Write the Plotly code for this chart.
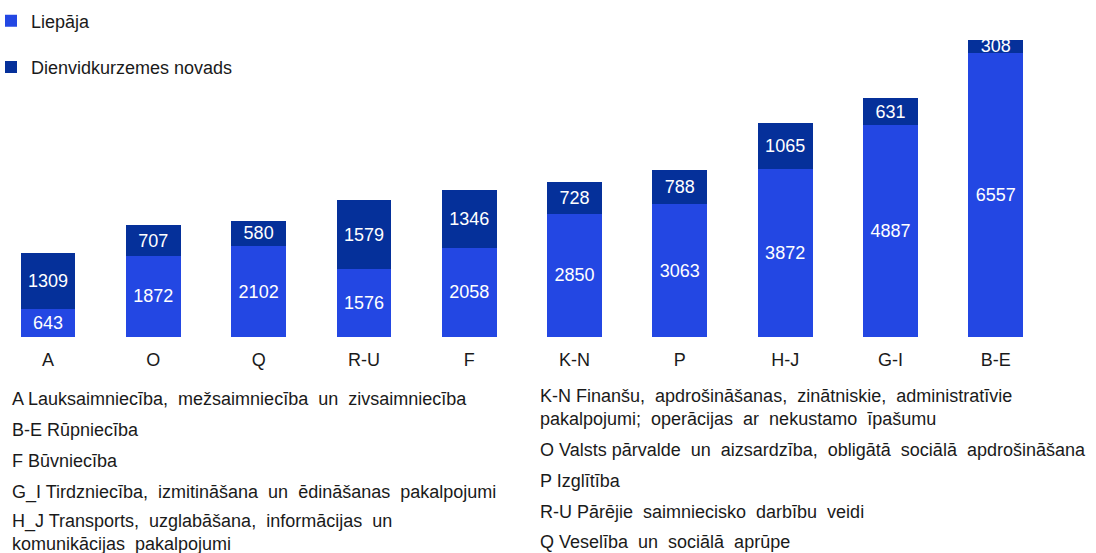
import plotly.graph_objects as go

categories = ["A", "O", "Q", "R-U", "F", "K-N", "P", "H-J", "G-I", "B-E"]
liepaja = [643, 1872, 2102, 1576, 2058, 2850, 3063, 3872, 4887, 6557]
dienvid = [1309, 707, 580, 1579, 1346, 728, 788, 1065, 631, 308]
series_names = ["Liepāja", "Dienvidkurzemes novads"]

notes_left = [
    "A Lauksaimniecība,  mežsaimniecība  un  zivsaimniecība",
    "B-E Rūpniecība",
    "F Būvniecība",
    "G_I Tirdzniecība,  izmitināšana  un  ēdināšanas  pakalpojumi",
    "H_J Transports,  uzglabāšana,  informācijas  un<br>komunikācijas  pakalpojumi",
]
notes_right = [
    "K-N Finanšu,  apdrošināšanas,  zinātniskie,  administratīvie<br>pakalpojumi;  operācijas  ar  nekustamo  īpašumu",
    "O Valsts pārvalde  un  aizsardzība,  obligātā  sociālā  apdrošināšana",
    "P Izglītība",
    "R-U Pārējie  saimniecisko  darbību  veidi",
    "Q Veselība  un  sociālā  aprūpe",
]

FONT = "Liberation Sans, Arial, sans-serif"
C_LIGHT = "#2347E3"
C_DARK = "#05309A"

fig = go.Figure()
fig.add_trace(go.Bar(
    x=categories, y=liepaja, name=series_names[0], legendgroup="g1",
    marker=dict(color=C_LIGHT, line=dict(width=0)),
    text=[str(v) for v in liepaja], textposition="inside", insidetextanchor="middle",
    textangle=0, constraintext="none",
    textfont=dict(color="white", size=18, family=FONT),
))
fig.add_trace(go.Bar(
    x=categories, y=dienvid, name=series_names[1], legendgroup="g2",
    marker=dict(color=C_DARK, line=dict(width=0)),
    text=[str(v) for v in dienvid], textposition="inside", insidetextanchor="middle",
    textangle=0, constraintext="none",
    textfont=dict(color="white", size=18, family=FONT),
))

PLOT_BOTTOM = 337
PLOT_H = 337
W = 1096

def py(ypix):
    return (PLOT_BOTTOM - ypix) / PLOT_H

annotations = []
left_y = [399, 430, 461, 492, 532]
right_y = [407.5, 450, 481, 512, 542]
for t, yp in zip(notes_left, left_y):
    annotations.append(dict(text=t, x=10 / W, y=py(yp), xref="paper", yref="paper",
                            xanchor="left", yanchor="middle", showarrow=False, align="left",
                            font=dict(size=18, color="#1a1a1a", family=FONT)))
for t, yp in zip(notes_right, right_y):
    annotations.append(dict(text=t, x=538 / W, y=py(yp), xref="paper", yref="paper",
                            xanchor="left", yanchor="middle", showarrow=False, align="left",
                            font=dict(size=18, color="#1a1a1a", family=FONT)))

fig.update_layout(
    width=1096, height=553,
    barmode="stack", bargap=0.48,
    plot_bgcolor="white", paper_bgcolor="white",
    margin=dict(l=0, r=0, t=0, b=216, pad=0, autoexpand=False),
    font=dict(family=FONT, size=18, color="#1a1a1a"),
    showlegend=True,
    legend=dict(x=-9 / W, y=1 - 2.5 / PLOT_H, xanchor="left", yanchor="top",
                traceorder="grouped", tracegroupgap=20,
                font=dict(size=18, family=FONT, color="#1a1a1a"),
                bgcolor="rgba(0,0,0,0)"),
    xaxis=dict(range=[-0.456, 9.952], showgrid=False, showline=False, zeroline=False,
               ticks="", ticklabelstandoff=10,
               tickfont=dict(size=18, color="#1a1a1a", family=FONT)),
    yaxis=dict(range=[0, 7785], visible=False),
    annotations=annotations,
)

fig.write_html("out.html", config={"displayModeBar": False},
               post_script="document.body.style.margin='0';document.body.style.overflow='hidden';")
